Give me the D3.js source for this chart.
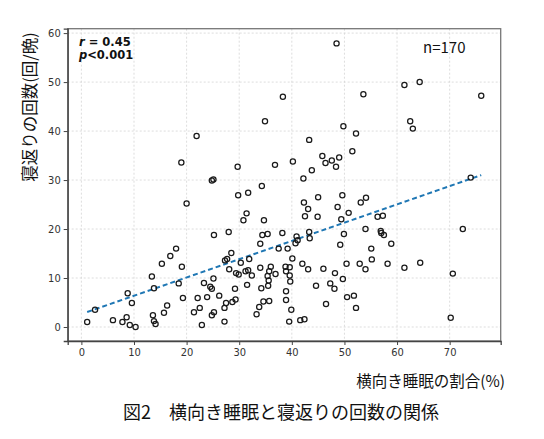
<!DOCTYPE html>
<html>
<head>
<meta charset="utf-8">
<script src="https://d3js.org/d3.v7.min.js"></script>
<style>
  body { margin: 0; background: #fff; }
</style>
</head>
<body>
<svg></svg>
<script>
// side sleep ratio (%) and number of turns per night
var sideRatio = [1.1, 2.6, 6.0, 7.8, 8.6, 8.8, 9.2, 9.6, 10.3, 13.4, 13.6, 13.8, 14.1, 13.8, 15.3, 15.7, 16.3, 16.9, 18.0, 18.5,
  19.1, 19.3, 20.0, 19.0, 21.9, 24.8, 25.1, 29.7, 29.8, 31.7, 34.3, 34.9, 36.8, 38.3, 40.2, 42.2, 43.3, 42.3, 43.1,
  31.4, 30.8, 34.7, 42.5, 25.2, 28.0, 34.4, 35.4, 38.2, 40.9, 34.0, 40.7, 41.1, 37.5, 39.2, 43.4, 43.3, 40.1, 42.0, 43.1,
  27.3, 27.7, 28.5, 28.1, 30.3, 31.9, 29.4, 29.9, 31.2, 31.7, 32.4, 34.0, 36.0, 35.7, 36.9, 35.4, 35.6, 38.8, 39.6, 38.9,
  39.6, 39.7, 35.5, 34.2, 31.5, 29.2, 25.1, 23.3, 24.5, 24.8, 22.1, 23.9, 26.2, 22.5, 21.4, 25.2, 24.8, 22.9, 27.5, 27.2,
  28.7, 29.3, 27.2, 33.3, 33.8, 34.6, 35.7, 38.9, 38.9, 39.9, 39.5, 41.6, 42.4,
  48.5, 53.6, 61.4, 64.3, 76.0, 49.8, 62.5, 63.0, 52.2, 51.5, 45.8, 46.4, 47.6, 49.0, 48.4, 43.8, 74.0, 45.0, 49.6, 54.1,
  48.7, 50.8, 53.1, 44.9, 49.4, 56.3, 57.3, 49.9, 49.2, 54.0, 56.9, 57.0, 57.5, 58.9, 55.1, 55.2, 46.0, 48.2, 50.4, 52.9,
  54.0, 58.2, 61.4, 64.4, 49.7, 44.6, 47.3, 48.1, 50.5, 51.8, 46.5, 52.2, 72.5, 70.6, 70.2];
var turns = [1.0, 3.5, 1.4, 1.0, 2.0, 6.9, 0.4, 4.9, 0.0, 10.3, 2.4, 1.2, 0.6, 7.9, 12.9, 2.9, 4.4, 14.5, 16.0, 8.9,
  12.3, 5.9, 25.2, 33.6, 39.0, 29.9, 30.1, 32.7, 26.9, 27.4, 28.8, 42.0, 33.1, 47.0, 33.8, 30.3, 38.2, 25.4, 24.1,
  23.2, 21.8, 21.8, 22.6, 18.8, 19.4, 18.8, 19.0, 19.2, 18.5, 17.0, 17.1, 17.7, 16.0, 16.0, 18.1, 19.4, 14.0, 12.9, 11.8,
  13.6, 13.9, 15.1, 11.8, 13.1, 13.9, 11.0, 10.7, 11.4, 11.6, 10.5, 12.1, 12.3, 11.4, 10.8, 10.4, 9.5, 12.3, 12.2, 11.4,
  10.5, 9.3, 8.4, 7.9, 8.6, 7.8, 9.9, 9.0, 8.2, 7.8, 5.9, 6.1, 6.4, 3.9, 3.0, 3.0, 2.4, 0.4, 4.9, 3.9,
  5.1, 5.6, 1.1, 2.6, 4.1, 5.2, 5.3, 7.3, 5.5, 3.5, 1.1, 1.4, 1.6,
  57.9, 47.5, 49.4, 50.0, 47.2, 41.0, 42.0, 40.5, 39.5, 35.9, 34.9, 33.5, 34.0, 34.6, 32.7, 32.0, 30.5, 26.5, 26.9, 26.4,
  24.5, 23.3, 25.4, 22.5, 22.0, 22.5, 22.7, 19.0, 16.8, 20.0, 19.6, 19.2, 18.8, 17.0, 16.0, 13.8, 11.9, 11.0, 12.9, 12.9,
  11.8, 12.9, 12.1, 13.1, 9.8, 8.4, 8.9, 7.8, 6.1, 6.4, 4.7, 3.9, 20.0, 10.9, 1.9];

var xTicks = [0, 10, 20, 30, 40, 50, 60, 70];
var yTicks = [0, 10, 20, 30, 40, 50, 60];
var fitIntercept = 2.65, fitSlope = 0.373;
var statLines = ["r = 0.45", "p<0.001"];
var nLabel = "n=170";
var xTitle = "横向き睡眠の割合(%)";
var yTitle = "寝返りの回数(回/晩)";
var caption = "図2\u3000横向き睡眠と寝返りの回数の関係";

var data = sideRatio.map(function(d, i) { return { x: d, y: turns[i] }; });

var svg = d3.select("svg").attr("width", 544).attr("height", 439);
svg.append("rect").attr("width", 544).attr("height", 439).attr("fill", "#fff");

var plotL = 67.7, plotR = 500.7, plotT = 28.7, plotB = 341;
var x = d3.scaleLinear().domain([-2.6, 79.7]).range([plotL, plotR]);
var y = d3.scaleLinear().domain([-2.86, 60.9]).range([plotB, plotT]);

var tickFont = "'Liberation Sans Narrow','DejaVu Sans Condensed',sans-serif";
var jpFont = "'Noto Sans CJK JP','Noto Sans',sans-serif";

// grid
svg.append("g").selectAll("line").data(xTicks).join("line")
  .attr("x1", function(d) { return x(d); }).attr("x2", function(d) { return x(d); })
  .attr("y1", plotT).attr("y2", plotB)
  .attr("stroke", "#d4d4d4").attr("stroke-width", 0.8).attr("stroke-dasharray", "2,2");
svg.append("g").selectAll("line").data(yTicks).join("line")
  .attr("y1", function(d) { return y(d); }).attr("y2", function(d) { return y(d); })
  .attr("x1", plotL).attr("x2", plotR)
  .attr("stroke", "#d4d4d4").attr("stroke-width", 0.8).attr("stroke-dasharray", "2,2");

// frame
svg.append("rect")
  .attr("x", plotL).attr("y", plotT).attr("width", plotR - plotL).attr("height", plotB - plotT)
  .attr("fill", "none").attr("stroke", "#777").attr("stroke-width", 1.3);

var xAxis = svg.append("g")
  .attr("transform", "translate(0," + plotB + ")")
  .call(d3.axisBottom(x).tickValues(xTicks).tickSize(4).tickPadding(3));
var yAxis = svg.append("g")
  .attr("transform", "translate(" + plotL + ",0)")
  .call(d3.axisLeft(y).tickValues(yTicks).tickSize(4).tickPadding(3));
[xAxis, yAxis].forEach(function(a) {
  a.select(".domain").attr("stroke", "#444").attr("stroke-width", 1.3);
  a.selectAll(".tick line").attr("stroke", "#444");
  a.selectAll(".tick text").attr("fill", "#333").style("font-family", tickFont).style("font-size", "11px");
});

// regression line
var xExt = d3.extent(sideRatio);
svg.append("path")
  .datum(xExt)
  .attr("fill", "none")
  .attr("stroke", "#1f77b4")
  .attr("stroke-width", 2)
  .attr("stroke-dasharray", "5,3")
  .attr("d", d3.line()
    .x(function(d) { return x(d); })
    .y(function(d) { return y(fitIntercept + fitSlope * d); }));

// points
svg.append("g").selectAll("circle").data(data).join("circle")
  .attr("cx", function(d) { return x(d.x); })
  .attr("cy", function(d) { return y(d.y); })
  .attr("r", 2.6)
  .attr("fill", "none")
  .attr("stroke", "#1a1a1a")
  .attr("stroke-width", 1.25);

// stats
var st = svg.append("g").style("font-family", "'DejaVu Sans',sans-serif").style("font-size", "11.5px").style("font-weight", "bold");
statLines.forEach(function(s, i) {
  var t = st.append("text").attr("x", 79).attr("y", 46 + i * 12.5).attr("fill", "#111");
  t.append("tspan").style("font-style", "italic").text(s.charAt(0));
  t.append("tspan").text(s.slice(1));
});

svg.append("text")
  .attr("x", 423).attr("y", 53)
  .style("font-family", jpFont).style("font-size", "15px")
  .attr("fill", "#111")
  .text(nLabel);

svg.append("text")
  .attr("transform", "translate(36,107) rotate(-90)")
  .attr("text-anchor", "middle")
  .style("font-family", jpFont).style("font-size", "16.5px")
  .attr("fill", "#111")
  .text(yTitle);

svg.append("text")
  .attr("x", 505).attr("y", 387)
  .attr("text-anchor", "end")
  .style("font-family", jpFont).style("font-size", "15.5px")
  .attr("fill", "#111")
  .text(xTitle);

svg.append("text")
  .attr("x", 123).attr("y", 419)
  .style("font-family", jpFont).style("font-size", "18px")
  .attr("fill", "#111")
  .text(caption);
</script>
</body>
</html>
